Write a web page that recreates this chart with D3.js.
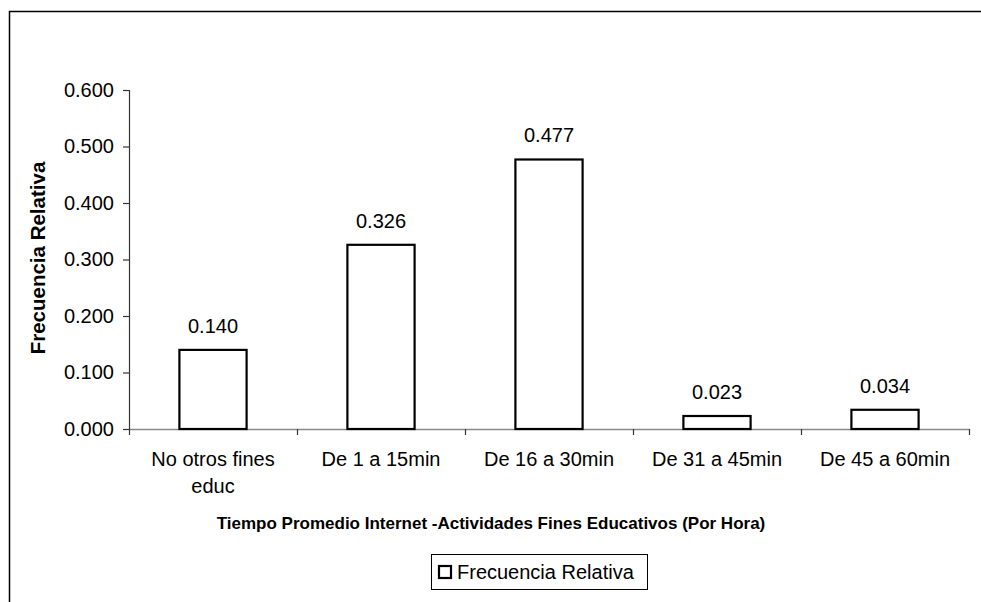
<!DOCTYPE html>
<html>
<head>
<meta charset="utf-8">
<script src="https://cdn.jsdelivr.net/npm/d3@7"></script>
<style>
  html, body { margin: 0; padding: 0; background: #fff; }
  svg { display: block; font-family: "Liberation Sans", Arial, sans-serif; }
</style>
</head>
<body>
<svg id="chart" width="981" height="602"></svg>
<script>
const categories = ["No otros fines educ", "De 1 a 15min", "De 16 a 30min", "De 31 a 45min", "De 45 a 60min"];
const categoryLines = [["No otros fines", "educ"], ["De 1 a 15min"], ["De 16 a 30min"], ["De 31 a 45min"], ["De 45 a 60min"]];
const values = [0.140, 0.326, 0.477, 0.023, 0.034];
const yTicks = [0, 0.1, 0.2, 0.3, 0.4, 0.5, 0.6];
const seriesName = "Frecuencia Relativa";
const xTitle = "Tiempo Promedio Internet -Actividades Fines Educativos (Por Hora)";
const yTitle = "Frecuencia Relativa";

(function () {
const svg = d3.select("#chart");
const mLeft = 129, mRight = 969, mTop = 90, mBottom = 429;

// outer border (extends off canvas right/bottom)
svg.append("rect")
  .attr("x", 9.5).attr("y", 11.5)
  .attr("width", 1100).attr("height", 700)
  .attr("fill", "none").attr("stroke", "#000").attr("stroke-width", 1.5);

const x = d3.scaleBand().domain(categories).range([mLeft, mRight]).paddingInner(0.6).paddingOuter(0.3);
const xEdge = d3.scaleLinear().domain([0, categories.length]).range([mLeft, mRight]);
const y = d3.scaleLinear().domain([0, 0.6]).range([mBottom, mTop]);

// Y axis
const yAxis = d3.axisLeft(y).tickValues(yTicks).tickFormat(d3.format(".3f")).tickSize(6).tickPadding(9);
const gy = svg.append("g").attr("transform", `translate(${mLeft},0)`).call(yAxis);
gy.select(".domain").attr("stroke", "#333").attr("stroke-width", 1.2);
gy.selectAll(".tick line").attr("stroke", "#333").attr("stroke-width", 1.2);
gy.selectAll(".tick text").attr("font-size", 20).attr("fill", "#000")
  .attr("font-family", "'Liberation Sans', Arial, sans-serif");

// X axis
const xAxis = d3.axisBottom(xEdge).tickValues(d3.range(categories.length + 1)).tickSize(6).tickSizeOuter(0).tickFormat("");
const gx = svg.append("g").attr("transform", `translate(0,${mBottom})`).call(xAxis);
gx.select(".domain").attr("stroke", "#888").attr("stroke-width", 1.5);
gx.selectAll(".tick line").attr("stroke", "#333").attr("stroke-width", 1.2);

// category labels
svg.append("g").selectAll("text").data(categories).join("text")
  .attr("x", d => x(d) + x.bandwidth() / 2)
  .attr("y", 466)
  .attr("text-anchor", "middle").attr("font-size", 20).attr("fill", "#000")
  .each(function(d, i) {
    const t = d3.select(this);
    categoryLines[i].forEach((ln, j) => {
      t.append("tspan").attr("x", x(d) + x.bandwidth() / 2).attr("dy", j === 0 ? 0 : 27).text(ln);
    });
  });

// bars
svg.append("g").selectAll("rect").data(values).join("rect")
  .attr("x", (d, i) => x(categories[i]))
  .attr("y", d => y(d))
  .attr("width", x.bandwidth())
  .attr("height", d => y(0) - y(d))
  .attr("fill", "#fff").attr("stroke", "#000").attr("stroke-width", 2.2);

// value labels
svg.append("g").selectAll("text").data(values).join("text")
  .attr("x", (d, i) => x(categories[i]) + x.bandwidth() / 2)
  .attr("y", d => y(d) - 17)
  .attr("text-anchor", "middle").attr("font-size", 20).attr("fill", "#000")
  .text(d => d3.format(".3f")(d));

// axis titles
svg.append("text").attr("x", 491).attr("y", 529)
  .attr("text-anchor", "middle").attr("font-size", 17).attr("font-weight", "bold")
  .text(xTitle);
svg.append("text").attr("transform", "translate(45,258) rotate(-90)")
  .attr("text-anchor", "middle").attr("font-size", 20.5).attr("font-weight", "bold")
  .text(yTitle);

// legend
const lg = svg.append("g");
lg.append("rect").attr("x", 431.5).attr("y", 554.5).attr("width", 216).attr("height", 35)
  .attr("fill", "#fff").attr("stroke", "#000").attr("stroke-width", 1);
lg.append("rect").attr("x", 439).attr("y", 566).attr("width", 12).attr("height", 12)
  .attr("fill", "#fff").attr("stroke", "#000").attr("stroke-width", 2.2);
lg.append("text").attr("x", 457).attr("y", 579).attr("font-size", 20).text(seriesName);
})();
</script>
</body>
</html>
